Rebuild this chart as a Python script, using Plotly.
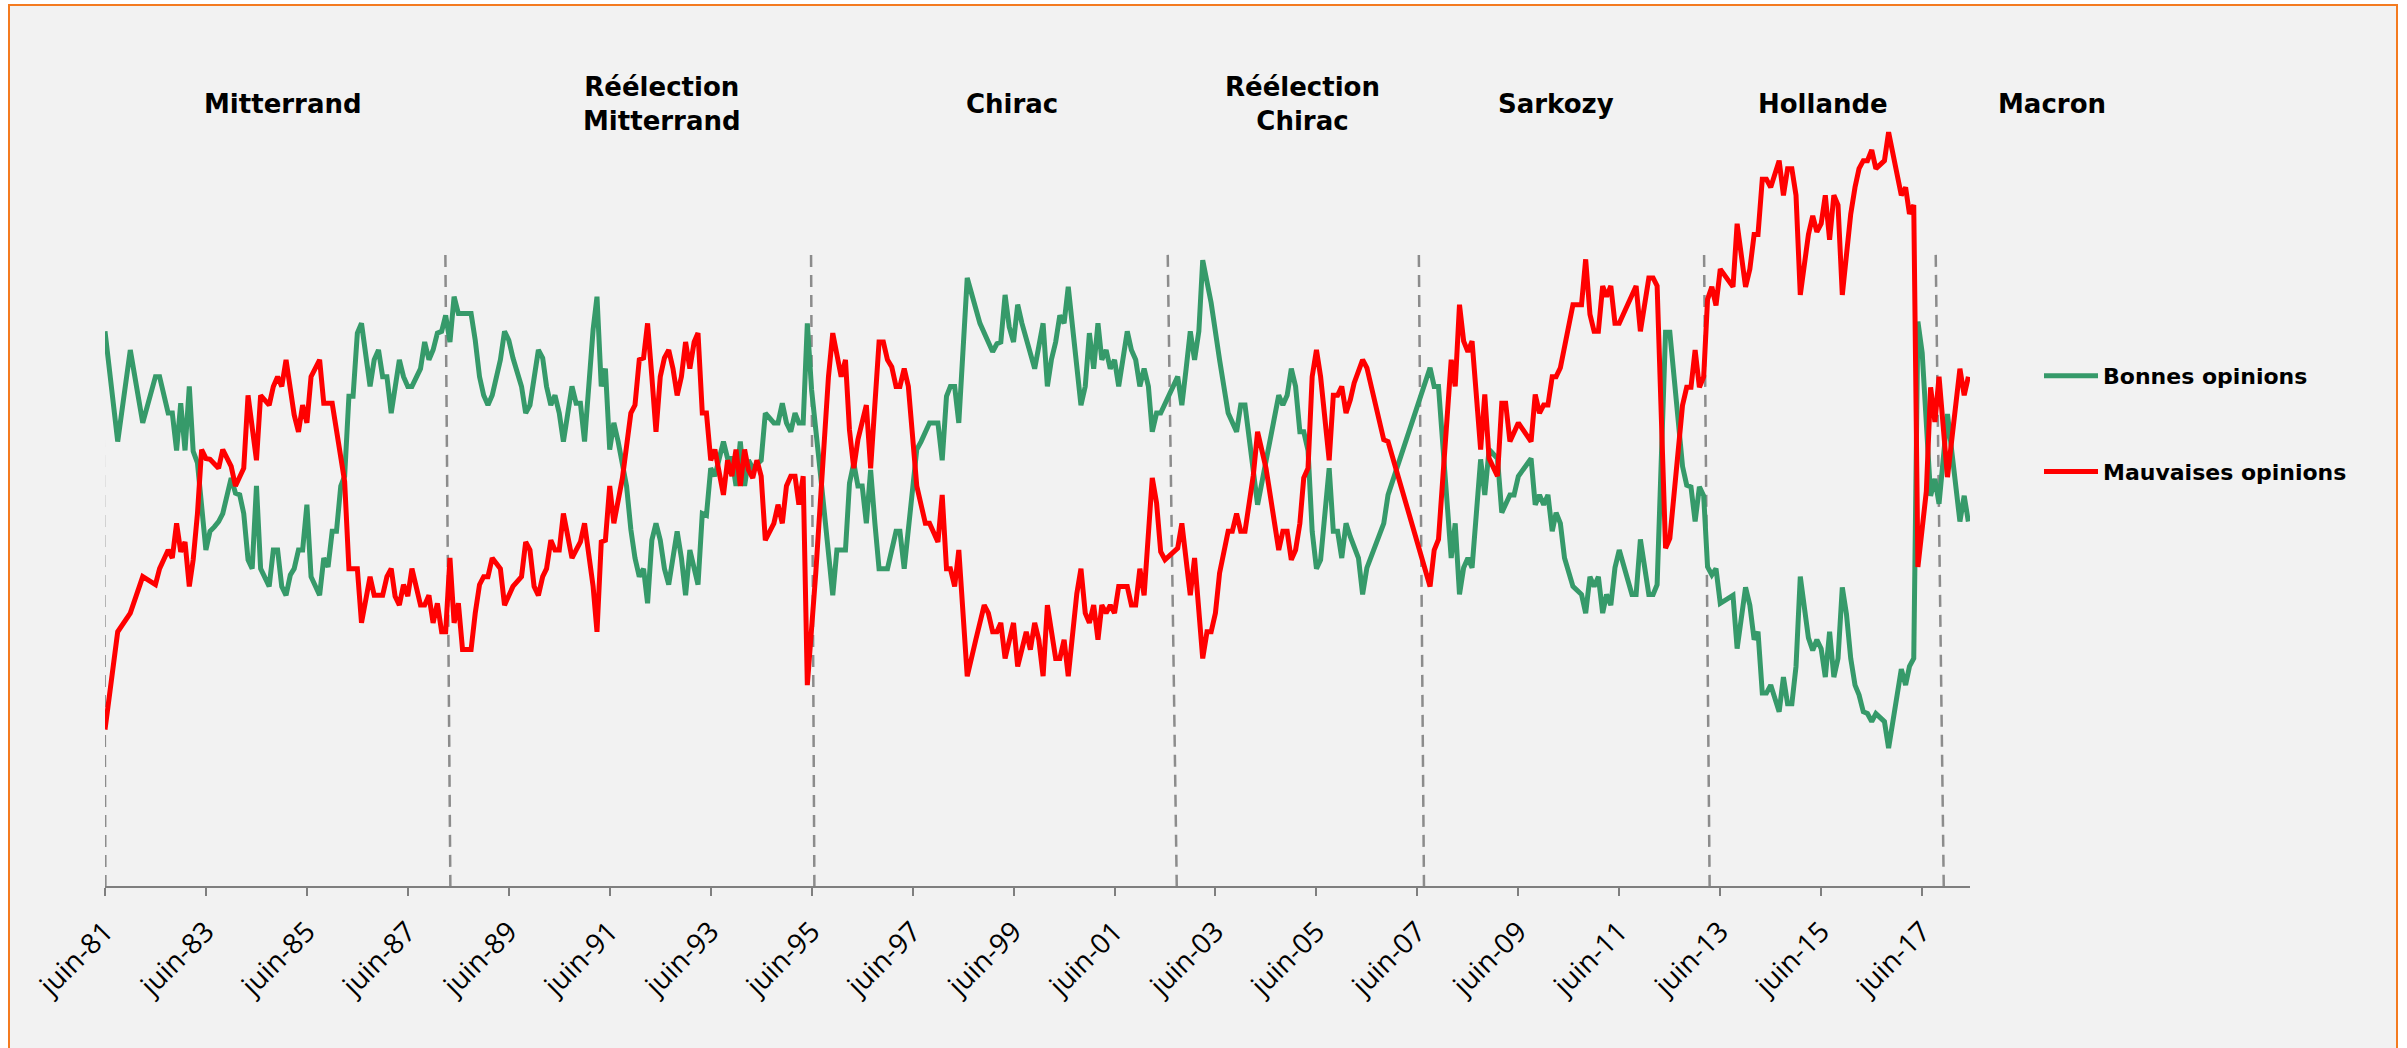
import plotly.graph_objects as go

# ---------------- data ----------------
good_opinions = [
    ("1981-06", 62.4), ("1981-09", 50.0), ("1981-12", 60.3),
    ("1982-03", 52.1), ("1982-06", 57.3), ("1982-07", 57.3), ("1982-09", 53.2), ("1982-10", 53.2),
    ("1982-11", 49.0), ("1982-12", 54.3),
    ("1983-01", 49.0), ("1983-02", 56.2), ("1983-03", 48.9), ("1983-04", 47.6), ("1983-06", 37.8),
    ("1983-07", 39.9), ("1983-08", 40.4), ("1983-09", 41.0), ("1983-10", 41.9), ("1983-11", 43.8),
    ("1983-12", 45.9),
    ("1984-01", 44.2), ("1984-02", 44.0), ("1984-03", 41.9), ("1984-04", 36.7), ("1984-05", 35.7),
    ("1984-06", 45.0), ("1984-07", 35.7), ("1984-09", 33.7), ("1984-10", 37.8), ("1984-11", 37.8),
    ("1984-12", 33.7),
    ("1985-01", 32.7), ("1985-02", 35.0), ("1985-03", 35.7), ("1985-04", 37.8), ("1985-05", 37.8),
    ("1985-06", 42.9), ("1985-07", 34.8), ("1985-09", 32.7), ("1985-10", 36.9), ("1985-11", 35.9),
    ("1985-12", 39.9),
    ("1986-01", 39.9), ("1986-02", 45.0), ("1986-03", 46.1), ("1986-04", 55.1), ("1986-05", 55.1),
    ("1986-06", 62.2), ("1986-07", 63.3), ("1986-09", 56.2), ("1986-10", 59.2), ("1986-11", 60.3),
    ("1986-12", 57.3),
    ("1987-01", 57.3), ("1987-02", 53.2), ("1987-04", 59.2), ("1987-05", 57.3), ("1987-06", 56.2),
    ("1987-07", 56.2), ("1987-09", 58.2), ("1987-10", 61.2), ("1987-11", 59.2), ("1987-12", 60.3),
    ("1988-01", 62.2), ("1988-02", 62.4), ("1988-03", 64.2), ("1988-04", 61.2), ("1988-05", 66.3),
    ("1988-06", 64.4), ("1988-09", 64.4), ("1988-10", 61.4), ("1988-11", 57.3), ("1988-12", 55.2),
    ("1989-01", 54.1), ("1989-02", 55.2), ("1989-04", 59.2), ("1989-05", 62.4), ("1989-06", 61.4),
    ("1989-07", 59.4), ("1989-08", 57.7), ("1989-09", 56.2), ("1989-10", 53.2), ("1989-11", 54.1),
    ("1990-01", 60.3), ("1990-02", 59.4), ("1990-03", 56.2), ("1990-04", 54.1), ("1990-05", 55.2),
    ("1990-06", 53.2), ("1990-07", 50.0), ("1990-09", 56.2), ("1990-10", 54.3), ("1990-11", 54.3),
    ("1990-12", 50.0),
    ("1991-02", 62.6), ("1991-03", 66.3), ("1991-04", 56.2), ("1991-05", 58.2), ("1991-06", 49.1),
    ("1991-07", 52.1), ("1991-08", 50.0), ("1991-10", 45.0), ("1991-11", 40.1), ("1991-12", 36.9),
    ("1992-01", 34.8), ("1992-02", 35.7), ("1992-03", 31.8), ("1992-04", 38.9), ("1992-05", 40.8),
    ("1992-06", 38.9), ("1992-07", 35.7), ("1992-08", 33.9), ("1992-09", 36.9), ("1992-10", 39.9),
    ("1992-11", 36.9), ("1992-12", 32.7),
    ("1993-01", 37.8), ("1993-02", 35.7), ("1993-03", 33.9), ("1993-04", 41.9), ("1993-05", 41.7),
    ("1993-06", 47.0), ("1993-07", 46.1), ("1993-09", 50.0), ("1993-10", 48.1), ("1993-11", 48.1),
    ("1993-12", 45.0),
    ("1994-01", 50.0), ("1994-02", 45.0), ("1994-03", 47.9), ("1994-04", 47.0), ("1994-06", 47.9),
    ("1994-07", 53.2), ("1994-09", 52.1), ("1994-10", 52.1), ("1994-11", 54.3), ("1994-12", 52.1),
    ("1995-01", 51.1), ("1995-02", 53.2), ("1995-03", 52.1), ("1995-04", 52.1), ("1995-05", 63.3),
    ("1995-06", 55.8), ("1995-08", 46.8), ("1995-10", 37.0), ("1995-11", 32.7), ("1995-12", 37.8),
    ("1996-02", 37.8), ("1996-03", 45.3), ("1996-04", 47.6), ("1996-05", 45.0), ("1996-06", 45.0),
    ("1996-07", 40.8), ("1996-08", 46.8), ("1996-09", 40.8), ("1996-10", 35.7), ("1996-12", 35.7),
    ("1997-02", 39.9), ("1997-03", 39.9), ("1997-04", 35.7), ("1997-07", 49.1), ("1997-08", 50.0),
    ("1997-10", 52.1), ("1997-12", 52.1),
    ("1998-01", 47.9), ("1998-02", 55.1), ("1998-03", 56.2), ("1998-04", 56.2), ("1998-05", 52.1),
    ("1998-07", 68.4), ("1998-10", 63.3), ("1998-11", 62.2),
    ("1999-01", 60.1), ("1999-02", 61.0), ("1999-03", 61.2), ("1999-04", 66.5), ("1999-05", 62.9),
    ("1999-06", 61.2), ("1999-07", 65.4), ("1999-08", 63.3), ("1999-09", 61.4), ("1999-10", 60.1),
    ("1999-11", 58.2),
    ("2000-01", 63.3), ("2000-02", 56.2), ("2000-03", 59.2), ("2000-04", 61.2), ("2000-05", 64.2),
    ("2000-06", 63.3), ("2000-07", 67.4), ("2000-10", 54.1), ("2000-11", 56.2), ("2000-12", 62.2),
    ("2001-01", 58.2), ("2001-02", 63.3), ("2001-03", 59.2), ("2001-04", 60.3), ("2001-05", 58.2),
    ("2001-06", 59.2), ("2001-07", 56.2), ("2001-09", 62.4), ("2001-10", 60.3), ("2001-11", 59.2),
    ("2001-12", 56.2),
    ("2002-01", 58.2), ("2002-02", 56.2), ("2002-03", 51.1), ("2002-04", 53.2), ("2002-05", 53.2),
    ("2002-09", 57.3), ("2002-10", 54.1), ("2002-11", 58.2), ("2002-12", 62.4),
    ("2003-01", 59.2), ("2003-02", 62.4), ("2003-03", 70.4), ("2003-05", 65.6), ("2003-07", 59.2),
    ("2003-09", 53.2), ("2003-11", 51.1), ("2003-12", 54.1),
    ("2004-01", 54.1), ("2004-04", 42.9), ("2004-09", 55.2), ("2004-10", 54.1), ("2004-11", 55.2),
    ("2004-12", 58.2),
    ("2005-01", 56.2), ("2005-02", 51.1), ("2005-03", 51.1), ("2005-04", 49.0), ("2005-05", 39.9),
    ("2005-06", 35.7), ("2005-07", 36.7), ("2005-09", 47.0), ("2005-10", 39.9), ("2005-11", 39.9),
    ("2005-12", 36.9),
    ("2006-01", 40.8), ("2006-02", 39.3), ("2006-04", 36.9), ("2006-05", 32.8), ("2006-06", 35.8),
    ("2006-10", 40.8), ("2006-11", 44.0),
    ("2007-09", 58.3), ("2007-10", 56.2), ("2007-11", 56.2),
    ("2008-02", 36.9), ("2008-03", 40.8), ("2008-04", 32.8), ("2008-05", 35.8), ("2008-06", 36.9),
    ("2008-07", 35.8), ("2008-09", 48.0), ("2008-10", 44.0), ("2008-11", 49.1),
    ("2009-01", 48.1), ("2009-02", 42.0), ("2009-04", 44.0), ("2009-05", 44.0), ("2009-06", 46.1),
    ("2009-09", 48.1), ("2009-10", 42.9), ("2009-11", 44.0), ("2009-12", 42.9),
    ("2010-01", 44.0), ("2010-02", 39.9), ("2010-03", 42.0), ("2010-04", 40.8), ("2010-05", 36.9),
    ("2010-07", 33.7), ("2010-09", 32.8), ("2010-10", 30.7), ("2010-11", 34.8), ("2010-12", 33.7),
    ("2011-01", 34.8), ("2011-02", 30.7), ("2011-03", 32.8), ("2011-04", 31.6), ("2011-05", 35.8),
    ("2011-06", 37.8), ("2011-09", 32.8), ("2011-10", 32.8), ("2011-11", 39.0),
    ("2012-01", 32.8), ("2012-02", 32.8), ("2012-03", 33.9), ("2012-05", 62.3), ("2012-06", 62.3),
    ("2012-09", 47.2), ("2012-10", 45.1), ("2012-11", 44.9), ("2012-12", 41.0),
    ("2013-01", 44.9), ("2013-02", 43.9), ("2013-03", 35.9), ("2013-04", 35.0), ("2013-05", 35.7),
    ("2013-06", 31.8), ("2013-09", 32.7), ("2013-10", 26.7), ("2013-12", 33.6),
    ("2014-01", 31.6), ("2014-02", 27.7), ("2014-03", 28.6), ("2014-04", 21.7), ("2014-05", 21.7),
    ("2014-06", 22.6), ("2014-08", 19.6), ("2014-09", 23.5), ("2014-10", 20.5), ("2014-11", 20.5),
    ("2014-12", 24.7),
    ("2015-01", 34.8), ("2015-03", 27.9), ("2015-04", 26.5), ("2015-05", 27.7), ("2015-06", 26.7),
    ("2015-07", 23.5), ("2015-08", 28.6), ("2015-09", 23.5), ("2015-10", 25.6), ("2015-11", 33.6),
    ("2015-12", 30.6),
    ("2016-01", 25.6), ("2016-02", 22.6), ("2016-03", 21.5), ("2016-04", 19.6), ("2016-05", 19.4),
    ("2016-06", 18.5), ("2016-07", 19.4), ("2016-09", 18.5), ("2016-10", 15.5),
    ("2017-01", 24.4), ("2017-02", 22.6), ("2017-03", 24.7), ("2017-04", 25.6), ("2017-05", 63.5),
    ("2017-06", 60.0), ("2017-08", 43.9), ("2017-09", 45.8), ("2017-10", 43.0), ("2017-12", 53.1),
    ("2018-03", 41.0), ("2018-04", 43.9), ("2018-05", 41.0),
]

bad_opinions = [
    ("1981-06", 17.6), ("1981-09", 28.6), ("1981-12", 30.7),
    ("1982-03", 34.8), ("1982-06", 33.9), ("1982-07", 35.7), ("1982-09", 37.8), ("1982-10", 36.9),
    ("1982-11", 40.8), ("1982-12", 37.6),
    ("1983-01", 38.7), ("1983-02", 33.7), ("1983-03", 36.7), ("1983-04", 41.9), ("1983-05", 49.1),
    ("1983-06", 48.1), ("1983-07", 48.0), ("1983-09", 47.0), ("1983-10", 49.1), ("1983-12", 47.2),
    ("1984-01", 45.0), ("1984-03", 47.0), ("1984-04", 55.2), ("1984-06", 47.9), ("1984-07", 55.2),
    ("1984-09", 54.1), ("1984-10", 56.2), ("1984-11", 57.3), ("1984-12", 56.2),
    ("1985-01", 59.2), ("1985-03", 53.0), ("1985-04", 51.1), ("1985-05", 54.1), ("1985-06", 52.1),
    ("1985-07", 57.3), ("1985-09", 59.2), ("1985-10", 54.3), ("1985-12", 54.3),
    ("1986-03", 45.5), ("1986-04", 35.7), ("1986-06", 35.7), ("1986-07", 29.6), ("1986-09", 34.8),
    ("1986-10", 32.7), ("1986-12", 32.7),
    ("1987-01", 34.8), ("1987-02", 35.7), ("1987-03", 32.6), ("1987-04", 31.6), ("1987-05", 33.9),
    ("1987-06", 32.6), ("1987-07", 35.7), ("1987-09", 31.6), ("1987-10", 31.6), ("1987-11", 32.7),
    ("1987-12", 29.6),
    ("1988-01", 31.8), ("1988-02", 28.6), ("1988-03", 28.6), ("1988-04", 36.9), ("1988-05", 29.6),
    ("1988-06", 31.8), ("1988-07", 26.6), ("1988-09", 26.6), ("1988-10", 30.7), ("1988-11", 33.9),
    ("1988-12", 34.8),
    ("1989-01", 34.8), ("1989-02", 36.9), ("1989-04", 35.7), ("1989-05", 31.6), ("1989-06", 32.6),
    ("1989-07", 33.7), ("1989-09", 34.8), ("1989-10", 38.7), ("1989-11", 37.8), ("1989-12", 33.7),
    ("1990-01", 32.7), ("1990-02", 34.8), ("1990-03", 35.7), ("1990-04", 38.9), ("1990-05", 37.8),
    ("1990-06", 37.8), ("1990-07", 41.9), ("1990-09", 36.9), ("1990-11", 38.7), ("1990-12", 40.8),
    ("1991-02", 33.7), ("1991-03", 28.6), ("1991-04", 38.7), ("1991-05", 38.9), ("1991-06", 45.0),
    ("1991-07", 40.8), ("1991-09", 45.9), ("1991-11", 53.2), ("1991-12", 54.1),
    ("1992-01", 59.2), ("1992-02", 59.4), ("1992-03", 63.3), ("1992-04", 57.3), ("1992-05", 51.1),
    ("1992-06", 57.3), ("1992-07", 59.4), ("1992-08", 60.3), ("1992-09", 58.2), ("1992-10", 55.2),
    ("1992-11", 57.3), ("1992-12", 61.2),
    ("1993-01", 58.2), ("1993-02", 61.2), ("1993-03", 62.2), ("1993-04", 53.2), ("1993-05", 53.2),
    ("1993-06", 47.9), ("1993-07", 49.1), ("1993-09", 44.0), ("1993-10", 47.9), ("1993-11", 46.1),
    ("1993-12", 49.1),
    ("1994-01", 45.0), ("1994-02", 49.1), ("1994-03", 46.8), ("1994-04", 45.9), ("1994-05", 47.9),
    ("1994-06", 46.1), ("1994-07", 38.9), ("1994-09", 40.8), ("1994-10", 42.9), ("1994-11", 40.8),
    ("1994-12", 45.0),
    ("1995-01", 46.1), ("1995-02", 46.1), ("1995-03", 42.9), ("1995-04", 46.1), ("1995-05", 22.6),
    ("1995-07", 35.2), ("1995-10", 57.3), ("1995-11", 62.2), ("1995-12", 59.9),
    ("1996-01", 57.3), ("1996-02", 59.2), ("1996-03", 51.3), ("1996-04", 47.0), ("1996-05", 50.2),
    ("1996-07", 54.1), ("1996-08", 47.0), ("1996-10", 61.2), ("1996-11", 61.2), ("1996-12", 59.2),
    ("1997-01", 58.4), ("1997-02", 56.2), ("1997-03", 56.2), ("1997-04", 58.2), ("1997-05", 56.2),
    ("1997-07", 45.0), ("1997-09", 40.8), ("1997-10", 40.8), ("1997-12", 38.7),
    ("1998-01", 44.0), ("1998-02", 35.7), ("1998-03", 35.7), ("1998-04", 33.7), ("1998-05", 37.8),
    ("1998-07", 23.6), ("1998-09", 27.7), ("1998-11", 31.6), ("1998-12", 30.7),
    ("1999-01", 28.6), ("1999-02", 28.6), ("1999-03", 29.6), ("1999-04", 25.6), ("1999-06", 29.6),
    ("1999-07", 24.7), ("1999-09", 28.6), ("1999-10", 26.6), ("1999-11", 29.6), ("1999-12", 27.7),
    ("2000-01", 23.6), ("2000-02", 31.6), ("2000-04", 25.6), ("2000-05", 25.6), ("2000-06", 27.7),
    ("2000-07", 23.6), ("2000-09", 32.9), ("2000-10", 35.7), ("2000-11", 30.7), ("2000-12", 29.6),
    ("2001-01", 31.6), ("2001-02", 27.7), ("2001-03", 31.6), ("2001-04", 30.7), ("2001-05", 31.6),
    ("2001-06", 30.7), ("2001-07", 33.7), ("2001-09", 33.7), ("2001-10", 31.6), ("2001-11", 31.6),
    ("2001-12", 35.7),
    ("2002-01", 32.7), ("2002-03", 45.9), ("2002-04", 43.1), ("2002-05", 37.6), ("2002-06", 36.7),
    ("2002-08", 37.6), ("2002-09", 38.0), ("2002-10", 40.8), ("2002-11", 36.7), ("2002-12", 32.7),
    ("2003-01", 36.9), ("2003-03", 25.6), ("2003-04", 28.6), ("2003-05", 28.6), ("2003-06", 30.7),
    ("2003-07", 35.2), ("2003-09", 39.9), ("2003-10", 39.9), ("2003-11", 41.9), ("2003-12", 39.9),
    ("2004-01", 39.9), ("2004-03", 46.2), ("2004-04", 51.1), ("2004-06", 47.0), ("2004-09", 37.8),
    ("2004-10", 39.9), ("2004-11", 39.9), ("2004-12", 36.7),
    ("2005-01", 37.8), ("2005-02", 40.8), ("2005-03", 45.9), ("2005-04", 47.0), ("2005-05", 57.3),
    ("2005-06", 60.3), ("2005-07", 57.3), ("2005-09", 47.9), ("2005-10", 55.2), ("2005-11", 55.2),
    ("2005-12", 56.2),
    ("2006-01", 53.2), ("2006-02", 54.7), ("2006-03", 56.6), ("2006-05", 59.2), ("2006-06", 58.3),
    ("2006-10", 50.2), ("2006-11", 50.0),
    ("2007-09", 33.7), ("2007-10", 37.8), ("2007-11", 39.0),
    ("2008-02", 59.2), ("2008-03", 56.2), ("2008-04", 65.4), ("2008-05", 61.3), ("2008-06", 60.1),
    ("2008-07", 61.3), ("2008-09", 49.1), ("2008-10", 55.3), ("2008-11", 48.1),
    ("2009-01", 46.1), ("2009-02", 54.3), ("2009-03", 54.3), ("2009-04", 50.0), ("2009-06", 52.1),
    ("2009-09", 50.0), ("2009-10", 55.3), ("2009-11", 53.2), ("2009-12", 54.1),
    ("2010-01", 54.1), ("2010-02", 57.3), ("2010-03", 57.3), ("2010-04", 58.3), ("2010-07", 65.4),
    ("2010-09", 65.4), ("2010-10", 70.5), ("2010-11", 64.3), ("2010-12", 62.4),
    ("2011-01", 62.4), ("2011-02", 67.5), ("2011-03", 66.3), ("2011-04", 67.5), ("2011-05", 63.3),
    ("2011-06", 63.3), ("2011-10", 67.5), ("2011-11", 62.4),
    ("2012-01", 68.4), ("2012-02", 68.4), ("2012-03", 67.5), ("2012-05", 38.0), ("2012-06", 39.1),
    ("2012-09", 54.1), ("2012-10", 56.1), ("2012-11", 56.1), ("2012-12", 60.3),
    ("2013-01", 56.1), ("2013-02", 57.3), ("2013-03", 66.0), ("2013-04", 67.4), ("2013-05", 65.3),
    ("2013-06", 69.4), ("2013-09", 67.4), ("2013-10", 74.5), ("2013-12", 67.4),
    ("2014-01", 69.4), ("2014-02", 73.3), ("2014-03", 73.3), ("2014-04", 79.5), ("2014-05", 79.5),
    ("2014-06", 78.6), ("2014-08", 81.6), ("2014-09", 77.7), ("2014-10", 80.7), ("2014-11", 80.7),
    ("2014-12", 77.7),
    ("2015-01", 66.5), ("2015-03", 73.3), ("2015-04", 75.4), ("2015-05", 73.6), ("2015-06", 74.5),
    ("2015-07", 77.7), ("2015-08", 72.7), ("2015-09", 77.7), ("2015-10", 76.6), ("2015-11", 66.5),
    ("2016-01", 75.6), ("2016-02", 78.6), ("2016-03", 80.7), ("2016-04", 81.6), ("2016-05", 81.6),
    ("2016-06", 82.8), ("2016-07", 80.7), ("2016-09", 81.6), ("2016-10", 84.8),
    ("2017-01", 77.7), ("2017-02", 78.6), ("2017-03", 75.6), ("2017-04", 76.6), ("2017-05", 35.9),
    ("2017-07", 44.4), ("2017-08", 56.1), ("2017-09", 52.2), ("2017-10", 57.3), ("2017-12", 46.0),
    ("2018-03", 58.2), ("2018-04", 55.2), ("2018-05", 57.3),
]

good_dates = [d for d, _ in good_opinions]
good_values = [v for _, v in good_opinions]
bad_dates = [d for d, _ in bad_opinions]
bad_values = [v for _, v in bad_opinions]

tick_dates = ["1981-06-01", "1983-06-01", "1985-06-01", "1987-06-01", "1989-06-01", "1991-06-01",
              "1993-06-01", "1995-06-01", "1997-06-01", "1999-06-01", "2001-06-01", "2003-06-01",
              "2005-06-01", "2007-06-01", "2009-06-01", "2011-06-01", "2013-06-01", "2015-06-01",
              "2017-06-01"]
tick_labels = ["juin-81", "juin-83", "juin-85", "juin-87", "juin-89", "juin-91", "juin-93",
               "juin-95", "juin-97", "juin-99", "juin-01", "juin-03", "juin-05", "juin-07",
               "juin-09", "juin-11", "juin-13", "juin-15", "juin-17"]

periods = ["Mitterrand", "Réélection<br>Mitterrand", "Chirac", "Réélection<br>Chirac",
           "Sarkozy", "Hollande", "Macron"]

# era separators as drawn in the picture (top date, bottom date)
era_lines = [("1981-05-18", "1981-06-04"), ("1988-02-28", "1988-04-04"),
             ("1995-05-28", "1995-06-21"), ("2002-06-21", "2002-08-25"),
             ("2007-06-12", "2007-07-19"), ("2013-02-04", "2013-03-16"),
             ("2017-09-07", "2017-11-04")]

# ---------------- layout constants (pixels) ----------------
W, H = 2407, 1048
ML, MR, MT, MB = 105, 437, 86, 162
PW, PH = W - ML - MR, H - MT - MB

GREEN = "#369A6A"
RED = "#FF0000"
TXT = "black"


def px_to_paper_x(px):
    return (px - ML) / PW


def px_to_paper_y(py):
    return (H - MB - py) / PH


fig = go.Figure()
fig.add_trace(go.Scatter(x=good_dates, y=good_values, mode="lines", name="Bonnes opinions",
                         line=dict(color=GREEN, width=5), legendgroup="g"))
fig.add_trace(go.Scatter(x=bad_dates, y=bad_values, mode="lines", name="Mauvaises opinions",
                         line=dict(color=RED, width=5), legendgroup="b"))

shapes = [dict(type="rect", xref="paper", yref="paper",
               x0=px_to_paper_x(9), x1=px_to_paper_x(2397),
               y0=px_to_paper_y(1060), y1=px_to_paper_y(5),
               fillcolor="#F2F2F2", line=dict(color="#F47B20", width=2), layer="below")]
for top, bottom in era_lines:
    shapes.append(dict(type="line", xref="x", yref="y", x0=top, y0=71, x1=bottom, y1=0,
                       line=dict(color="#8C8C8C", width=2.5, dash="12px,8px"), layer="below"))

label_px = [283, 662, 1012, 1302, 1556, 1823, 2052]
annotations = [dict(text=t, x=px_to_paper_x(p), xref="paper", y=px_to_paper_y(104), yref="paper",
                    showarrow=False, xanchor="center", yanchor="middle",
                    font=dict(family="DejaVu Sans", size=26, color=TXT, weight="bold"))
               for t, p in zip(periods, label_px)]

fig.update_layout(
    width=W, height=H, autosize=False,
    margin=dict(l=ML, r=MR, t=MT, b=MB, pad=0),
    paper_bgcolor="white", plot_bgcolor="rgba(0,0,0,0)",
    shapes=shapes, annotations=annotations,
    showlegend=True,
    legend=dict(x=px_to_paper_x(2039), xanchor="left", y=px_to_paper_y(355), yanchor="top",
                bgcolor="rgba(0,0,0,0)", font=dict(family="DejaVu Sans", size=22, color=TXT,
                                                   weight="bold"),
                tracegroupgap=64, itemwidth=54),
    xaxis=dict(type="date", range=["1981-06-01", "2018-05-13"], tickmode="array",
               tickvals=tick_dates, ticktext=tick_labels, tickangle=-45,
               tickfont=dict(family="Open Sans", size=28, color=TXT), ticklabelstandoff=8,
               showgrid=False, zeroline=False, showline=True, linecolor="#7F7F7F", linewidth=2,
               ticks="outside", ticklen=8, tickwidth=1.5, tickcolor="#7F7F7F"),
    yaxis=dict(range=[0, 90], visible=False, showgrid=False, zeroline=False),
)

fig.write_html("out.html", config={"displayModeBar": False},
               post_script="document.body.style.margin='0px';document.body.style.overflow='hidden';")
